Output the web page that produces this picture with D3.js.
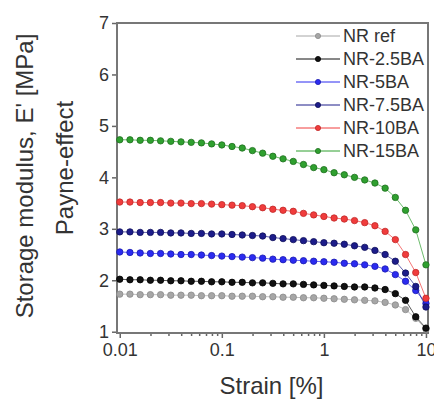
<!DOCTYPE html>
<html>
<head>
<meta charset="utf-8">
<script src="https://cdn.jsdelivr.net/npm/d3@7"></script>
<style>
  body { margin: 0; background: #fff; }
  svg { display: block; }
  text { font-family: "Liberation Sans", Arial, sans-serif; fill: #333; }
</style>
</head>
<body>
<div id="chart"></div>
<script>
// ---------------- data ----------------
// strain points: 10 per decade, 0.01 .. 10 %
var strain = d3.range(31).map(function(i) { return Math.pow(10, -2 + i / 10); });

var seriesNames = ["NR ref", "NR-2.5BA", "NR-5BA", "NR-7.5BA", "NR-10BA", "NR-15BA"];
var seriesColors = ["#a6a6a6", "#111111", "#2b2bf0", "#1c1c8a", "#f03c3c", "#2fa02f"];
var markerEdges = ["#8a8a8a", "#000000", "#1a1ab0", "#10105a", "#c02828", "#1e6e1e"];

var nrRef  = [1.73,1.73,1.72,1.72,1.72,1.71,1.71,1.71,1.70,1.70,1.70,1.69,1.69,1.69,1.68,1.68,1.67,1.67,1.66,1.66,1.65,1.64,1.63,1.62,1.61,1.60,1.57,1.52,1.43,1.26,1.05];
var nr25BA = [2.02,2.01,2.01,2.00,2.00,1.99,1.99,1.98,1.98,1.97,1.97,1.96,1.96,1.95,1.95,1.94,1.93,1.93,1.92,1.91,1.90,1.89,1.88,1.87,1.87,1.85,1.82,1.74,1.61,1.29,1.07];
var nr5BA  = [2.55,2.54,2.53,2.52,2.52,2.51,2.50,2.50,2.49,2.48,2.47,2.46,2.45,2.44,2.43,2.41,2.40,2.39,2.38,2.37,2.36,2.35,2.33,2.32,2.30,2.27,2.22,2.11,1.98,1.80,1.55];
var nr75BA = [2.94,2.94,2.93,2.93,2.93,2.92,2.92,2.91,2.91,2.90,2.90,2.89,2.88,2.87,2.86,2.83,2.81,2.79,2.77,2.75,2.73,2.72,2.70,2.67,2.64,2.58,2.50,2.37,2.14,1.88,1.48];
var nr10BA = [3.52,3.52,3.51,3.51,3.51,3.50,3.50,3.49,3.49,3.48,3.47,3.46,3.45,3.43,3.41,3.38,3.36,3.34,3.30,3.27,3.24,3.21,3.19,3.16,3.12,3.06,2.95,2.79,2.50,2.15,1.65];
var nr15BA = [4.73,4.73,4.72,4.72,4.71,4.70,4.69,4.68,4.67,4.65,4.63,4.60,4.57,4.52,4.47,4.41,4.36,4.31,4.25,4.19,4.15,4.09,4.05,4.00,3.95,3.89,3.79,3.61,3.36,2.98,2.30];

var seriesValues = [nrRef, nr25BA, nr5BA, nr75BA, nr10BA, nr15BA];

var xTicks = [0.01, 0.1, 1, 10];
var xTickLabels = ["0.01", "0.1", "1", "10"];
var yTicks = [1, 2, 3, 4, 5, 6, 7];

// ---------------- layout ----------------
var W = 434, H = 405;
var pLeft = 117, pRight = 428, pTop = 23, pBottom = 333;

var svg = d3.select("#chart").append("svg")
    .attr("width", W)
    .attr("height", H);

var x = d3.scaleLog()
    .domain([Math.pow(10, -2.027), Math.pow(10, 1.02)])
    .range([pLeft, pRight]);

var y = d3.scaleLinear()
    .domain([0.975, 7])
    .range([pBottom, pTop]);

// minor ticks on the log axis
var minor = [];
[0.01, 0.1, 1].forEach(function(d) {
    for (var k = 2; k <= 9; k++) minor.push(d * k);
});

// ---------------- axes ----------------
var xAxis = d3.axisBottom(x)
    .tickValues(xTicks)
    .tickFormat(function(d, i) { return xTickLabels[i]; })
    .tickSize(5)
    .tickPadding(5);

var xMinor = d3.axisBottom(x)
    .tickValues(minor)
    .tickFormat("")
    .tickSize(3);

var yAxis = d3.axisLeft(y)
    .tickValues(yTicks)
    .tickFormat(d3.format("d"))
    .tickSize(5)
    .tickPadding(3);

var gx = svg.append("g")
    .attr("transform", "translate(0," + pBottom + ")")
    .call(xAxis);
svg.append("g")
    .attr("transform", "translate(0," + pBottom + ")")
    .call(xMinor);
var gy = svg.append("g")
    .attr("transform", "translate(" + pLeft + ",0)")
    .call(yAxis);

svg.selectAll(".tick line").attr("stroke", "#666").attr("stroke-width", 1.5);
gx.selectAll("text").style("font-size", "18px").attr("fill", "#444");
gy.selectAll("text").style("font-size", "18px").attr("fill", "#444");
svg.selectAll(".domain").remove();

// frame
svg.append("rect")
    .attr("x", pLeft)
    .attr("y", pTop)
    .attr("width", pRight - pLeft)
    .attr("height", pBottom - pTop)
    .attr("fill", "none")
    .attr("stroke", "#777")
    .attr("stroke-width", 2);

// ---------------- series ----------------
var line = d3.line()
    .x(function(d) { return x(d[0]); })
    .y(function(d) { return y(d[1]); });

seriesValues.forEach(function(vals, s) {
    var pts = vals.map(function(v, i) { return [strain[i], v]; });
    var g = svg.append("g");
    g.append("path")
        .attr("d", line(pts))
        .attr("fill", "none")
        .attr("stroke", seriesColors[s])
        .attr("stroke-width", 1)
        .attr("opacity", 0.7);
    g.selectAll("circle")
        .data(pts)
        .enter()
        .append("circle")
        .attr("cx", function(d) { return x(d[0]); })
        .attr("cy", function(d) { return y(d[1]); })
        .attr("r", 3.2)
        .attr("fill", seriesColors[s])
        .attr("stroke", markerEdges[s])
        .attr("stroke-width", 0.8);
});

// ---------------- legend ----------------
var legend = svg.append("g");
seriesNames.forEach(function(name, s) {
    var ly = 36 + s * 23;
    legend.append("line")
        .attr("x1", 296).attr("x2", 340)
        .attr("y1", ly).attr("y2", ly)
        .attr("stroke", seriesColors[s])
        .attr("stroke-width", 1);
    legend.append("circle")
        .attr("cx", 318).attr("cy", ly)
        .attr("r", 2.6)
        .attr("fill", seriesColors[s])
        .attr("stroke", markerEdges[s])
        .attr("stroke-width", 0.8);
    legend.append("text")
        .attr("x", 343).attr("y", ly)
        .attr("dy", "0.35em")
        .style("font-size", "18px")
        .attr("fill", "#444")
        .text(name);
});

// ---------------- titles ----------------
svg.append("text")
    .attr("x", (pLeft + pRight) / 2 - 1)
    .attr("y", 394)
    .attr("text-anchor", "middle")
    .style("font-size", "24px")
    .text("Strain [%]");

svg.append("text")
    .attr("transform", "translate(33,176) rotate(-90)")
    .attr("text-anchor", "middle")
    .style("font-size", "24px")
    .text("Storage modulus, E' [MPa]");

svg.append("text")
    .attr("transform", "translate(73,168) rotate(-90)")
    .attr("text-anchor", "middle")
    .style("font-size", "24px")
    .text("Payne-effect");
</script>
</body>
</html>
